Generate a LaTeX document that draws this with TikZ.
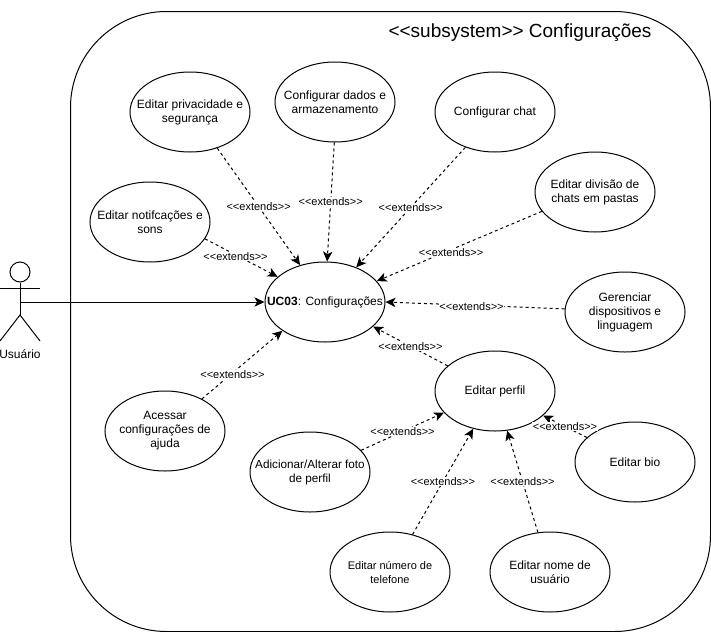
\documentclass[tikz,border=0pt]{standalone}
\usepackage{fontspec}
\setmainfont{Liberation Sans}
\usetikzlibrary{arrows.meta, shapes.geometric}

\newcommand{\extlabel}{<{}<extends>{}>}

\begin{document}
\begin{tikzpicture}[
  x=0.75pt, y=-0.75pt,
  line width=0.75pt,
  usecase/.style={draw, ellipse, minimum width=90pt, minimum height=60pt, inner sep=-12pt,
                  align=center, font=\fontsize{9}{10.5}\selectfont},
  usecasesm/.style={usecase, font=\fontsize{8.25}{10.5}\selectfont},
  ext/.style={-{Stealth[length=7.5pt, width=7pt, inset=2pt]}, dash pattern=on 2.25pt off 2.25pt},
  arr/.style={-{Stealth[length=7.5pt, width=7pt, inset=2pt]}},
  lbl/.style={fill=white, inner sep=0.5pt, font=\fontsize{8.25}{10}\selectfont}
]
\useasboundingbox (0,0) rectangle (711,632);
\node[draw, rounded corners=72pt, minimum width=480pt, minimum height=465pt, inner sep=0pt] (subsystem) at (390.5,321.5) {};
\node[font=\fontsize{14.25}{17}\selectfont] (title) at (520,33) {<{}<subsystem>{}> Configurações};

\node[usecase] (uc) at (325,302) {\textbf{UC03}: Configurações};
\node[usecase] (privacidade) at (190,112) {Editar privacidade e\\segurança};
\node[usecase] (dados) at (335,102) {Configurar dados e\\armazenamento};
\node[usecase] (chat) at (495,112) {Configurar chat};
\node[usecase] (pastas) at (595,192) {Editar divisão de\\chats em pastas};
\node[usecase] (notif) at (150,222) {Editar notifcações e\\sons};
\node[usecase] (dispositivos) at (625,312) {Gerenciar\\dispositivos e\\linguagem};
\node[usecase] (perfil) at (495,391) {Editar perfil};
\node[usecase] (ajuda) at (165,431) {Acessar\\configurações de\\ajuda};
\node[usecase, font=\fontsize{8.8}{10.5}\selectfont] (foto) at (310,472) {Adicionar/Alterar foto\\de perfil};
\node[usecase] (bio) at (635,462) {Editar bio};
\node[usecasesm] (telefone) at (390,572) {Editar número de\\telefone};
\node[usecase] (nome) at (550,572) {Editar nome de\\usuário};

\node[draw, circle, minimum size=15pt, inner sep=0pt] (head) at (20,272) {};
\coordinate (hip) at (20,315);
\coordinate (arml) at (0,288);
\coordinate (armr) at (40,288);
\coordinate (legl) at (0,341);
\coordinate (legr) at (40,341);
\coordinate (usuario) at (20,302);
\node[font=\fontsize{9}{10.5}\selectfont] (actor) at (20,354) {Usuário};
\draw (head) -- (hip);
\draw (arml) -- (armr);
\draw (legl) -- (hip) -- (legr);

\draw[arr] (usuario) -- (uc);
\draw[ext] (privacidade.-53) -- (uc.124) node[lbl, midway] {\extlabel};
\draw[ext] (dados.-91) -- (uc.87) node[lbl, midway] {\extlabel};
\draw[ext] (chat.-130) -- (uc.48) node[lbl, midway] {\extlabel};
\draw[ext] (pastas.-160) -- (uc.22) node[lbl, pos=0.55, yshift=-2pt] {\extlabel};
\draw[ext] (notif.-17) -- (uc.152) node[lbl, pos=0.42, yshift=-1.5pt] {\extlabel};
\draw[ext] (dispositivos.177) -- (uc.east) node[lbl, pos=0.52, yshift=-0.75pt] {\extlabel};
\draw[ext] (perfil.152) -- (uc.-27) node[lbl, midway] {\extlabel};
\draw[ext] (ajuda.41) -- (uc.-146) node[lbl, pos=0.38, yshift=-1.5pt] {\extlabel};
\draw[ext] (foto.23) -- (perfil.-157) node[lbl, midway] {\extlabel};
\draw[ext] (telefone.59) -- (perfil.-120) node[lbl, midway] {\extlabel};
\draw[ext] (nome.107) -- (perfil.-73) node[lbl, midway] {\extlabel};
\draw[ext] (bio.153) -- (perfil.-27) node[lbl, midway] {\extlabel};
\end{tikzpicture}
\end{document}
